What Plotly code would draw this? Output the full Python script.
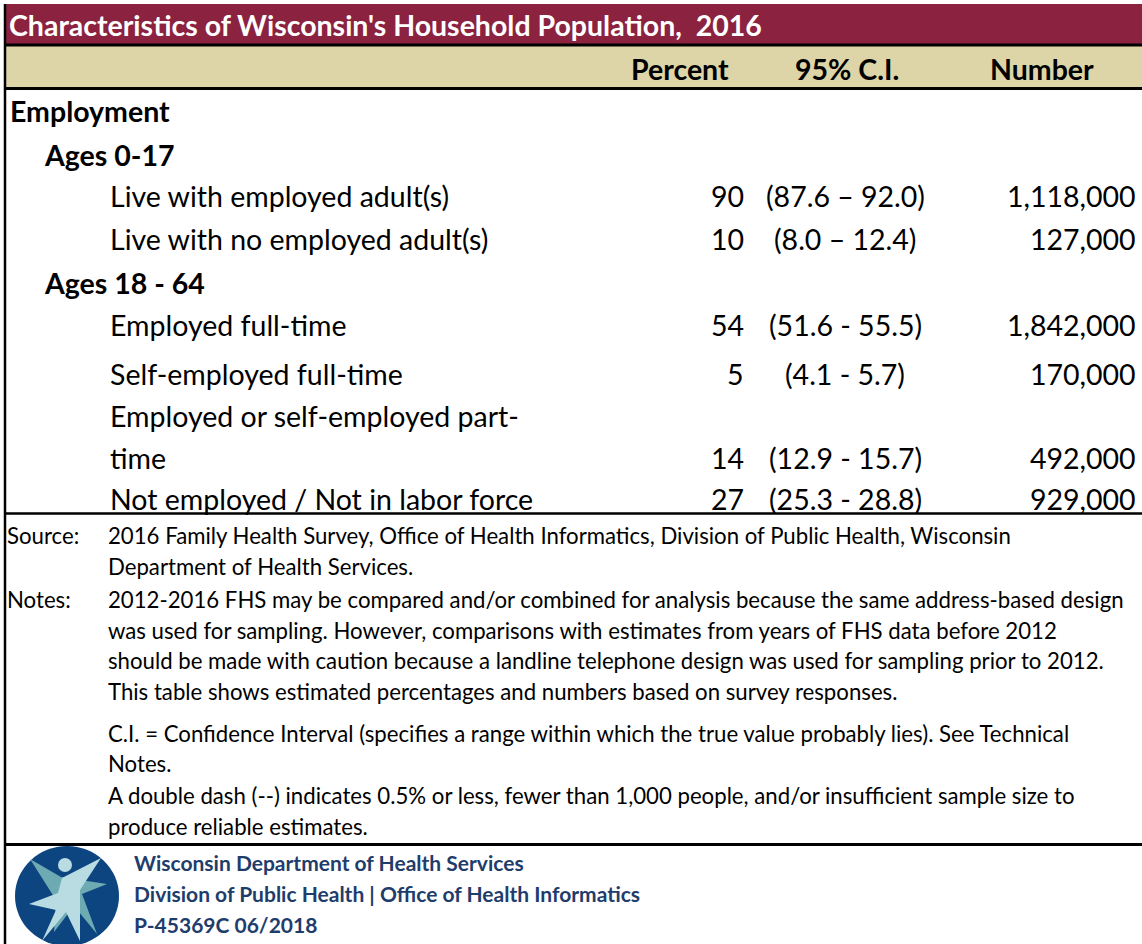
import plotly.graph_objects as go

# ---------------- data ----------------
title_text = "Characteristics of Wisconsin's Household Population,  2016"
col_headers = ["Percent", "95% C.I.", "Number"]
section = "Employment"
groups = ["Ages 0-17", "Ages 18 - 64"]
categories = [
    "Live with employed adult(s)",
    "Live with no employed adult(s)",
    "Employed full-time",
    "Self-employed full-time",
    "Employed or self-employed part-\ntime",
    "Not employed / Not in labor force",
]
category_group = [0, 0, 1, 1, 1, 1]
percent = [90, 10, 54, 5, 14, 27]
ci_labels = ["(87.6 – 92.0)", "(8.0 – 12.4)", "(51.6 - 55.5)", "(4.1 - 5.7)",
             "(12.9 - 15.7)", "(25.3 - 28.8)"]
number = [1118000, 127000, 1842000, 170000, 492000, 929000]

source_label = "Source:"
source_lines = ["2016 Family Health Survey, Office of Health Informatics, Division of Public Health, Wisconsin",
                "Department of Health Services."]
notes_label = "Notes:"
notes_blocks = [
    ["2012-2016 FHS may be compared and/or combined for analysis because the same address-based design",
     "was used for sampling. However, comparisons with estimates from years of FHS data before 2012",
     "should be made with caution because a landline telephone design was used for sampling prior to 2012.",
     "This table shows estimated percentages and numbers based on survey responses."],
    ["C.I. = Confidence Interval (specifies a range within which the true value probably lies). See Technical",
     "Notes."],
    ["A double dash (--) indicates 0.5% or less, fewer than 1,000 people, and/or insufficient sample size to",
     "produce reliable estimates."],
]
logo_lines = ["Wisconsin Department of Health Services",
              "Division of Public Health | Office of Health Informatics",
              "P-45369C 06/2018"]

# ---------------- style ----------------
W, H = 1142, 944
FONT = "Lato"
MAROON = "#8B2240"
BEIGE = "#DDD5A8"
LOGO_BLUE = "#0D4580"
LOGO_TEXT = "#1F3D6B"
TITLE_SIZE = 28.5
ROW_SIZE = 28.5
FOOT_SIZE = 22.2
LOGO_SIZE = 21

X_SECTION, X_GROUP, X_ITEM = 8, 42, 108
X_PCT, X_CI, X_NUM = 746, 845, 1138
X_FOOT_LABEL, X_FOOT = 5, 106
HEADER_X = [680, 847, 1042]
LINE_H = 42  # height of a wrapped label line

ann = []
shapes = []

def text(x, y, s, size, anchor="left", bold=False, color="black"):
    if bold:
        s = "<b>" + s + "</b>"
    ann.append(dict(x=x, y=y, xref="x", yref="y", text=s, showarrow=False,
                    xanchor=anchor, yanchor="middle",
                    font=dict(family=FONT, size=size, color=color)))

# background bands and rules
shapes.append(dict(type="rect", x0=4, x1=W, y0=4, y1=45, fillcolor=MAROON, line_width=0, layer="below"))
shapes.append(dict(type="rect", x0=4, x1=W, y0=45, y1=88, fillcolor=BEIGE, line_width=0, layer="below"))
for y, w in [(45, 3), (88.5, 3), (513.5, 2.5), (844.5, 3)]:
    shapes.append(dict(type="line", x0=4, x1=W, y0=y, y1=y, line=dict(color="black", width=w), layer="below"))
shapes.append(dict(type="line", x0=5, x1=5, y0=4, y1=H, line=dict(color="black", width=2.5), layer="below"))

text(7, 25, title_text, TITLE_SIZE, bold=True, color="white")
for h, x in zip(col_headers, HEADER_X):
    text(x, 69, h, ROW_SIZE, anchor="center", bold=True)

text(X_SECTION, 111, section, ROW_SIZE, bold=True)

# row layout (positions): group header rows + item rows
group_y = [155, 283]
item_y = [196, 239, 325, 374, 458, 499]
for g, y in zip(groups, group_y):
    text(X_GROUP, y, g, ROW_SIZE, bold=True)
for i, cat in enumerate(categories):
    parts = cat.split("\n")
    yb = item_y[i]
    for k, p in enumerate(parts):
        text(X_ITEM, yb - (len(parts) - 1 - k) * LINE_H, p, ROW_SIZE)
    text(X_PCT, yb, str(percent[i]), ROW_SIZE, anchor="right")
    text(X_CI, yb, ci_labels[i], ROW_SIZE, anchor="center")
    text(X_NUM, yb, f"{number[i]:,}", ROW_SIZE, anchor="right")

# footer
foot_y = [535, 566]
text(X_FOOT_LABEL, foot_y[0], source_label, FOOT_SIZE)
for s, y in zip(source_lines, foot_y):
    text(X_FOOT, y, s, FOOT_SIZE)
text(X_FOOT_LABEL, 599, notes_label, FOOT_SIZE)
block_y = [[599, 630, 660, 691], [733, 763], [795, 826]]
for blk, ys in zip(notes_blocks, block_y):
    for s, y in zip(blk, ys):
        text(X_FOOT, y, s, FOOT_SIZE)

for s, y in zip(logo_lines, [862, 893, 924]):
    text(132, y, s, LOGO_SIZE, bold=True, color=LOGO_TEXT)

# logo (decorative)
shapes.append(dict(type="circle", x0=15, x1=119, y0=846, y1=946, fillcolor=LOGO_BLUE, line_width=0))
shapes.append(dict(type="path",
                   path="M30,859 L61,877 L107,884 L82,894 L97,934 L74,906 L54,932 L56,900 Z",
                   fillcolor="#6DAAB2", line_width=0))
shapes.append(dict(type="path",
                   path="M29,904 L58,893 L62,878 L101,858 L80,890 L80,941 L66,912 L42,941 L56,910 Z",
                   fillcolor="#B9DCE2", line_width=0))
shapes.append(dict(type="circle", x0=58, x1=72, y0=858, y1=872, fillcolor="#B9DCE2", line_width=0))

fig = go.Figure()
fig.update_layout(
    width=W, height=H, margin=dict(l=0, r=0, t=0, b=0),
    paper_bgcolor="white", plot_bgcolor="white",
    xaxis=dict(range=[0, W], visible=False, fixedrange=True),
    yaxis=dict(range=[H, 0], visible=False, fixedrange=True),
    shapes=shapes, annotations=ann, showlegend=False,
)
fig.write_html("out.html", config={"displayModeBar": False},
               post_script="document.body.style.margin='0';document.body.style.overflow='hidden';")
